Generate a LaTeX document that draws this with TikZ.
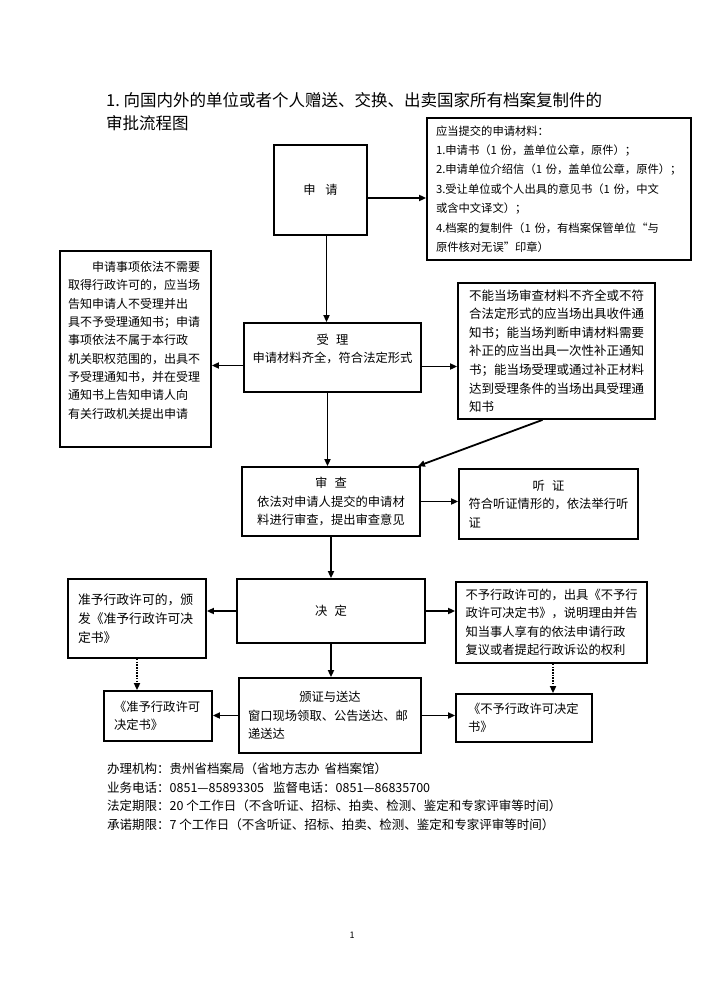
\documentclass[tikz,border=0pt]{standalone}
\usepackage{fontspec}
\setmainfont{Noto Sans CJK SC}
\usetikzlibrary{arrows.meta}

\begin{document}
\begin{tikzpicture}[x=1pt,y=-1pt]
        \useasboundingbox[fill=white] (0,0) rectangle (707,1000);
        \node[anchor=north west,align=left,inner sep=0pt,font=\fontsize{16.5}{23}\selectfont] (title) at (106,92) {1.~向国内外的单位或者个人赠送、交换、出卖国家所有档案复制件的\\审批流程图};
        \begin{scope}[every node/.style={draw,line width=1.8pt,inner sep=0pt,align=left,font=\fontsize{12.3}{18.5}\selectfont}]
        \node[minimum width=93pt,minimum height=90pt,align=center] (apply) at (320.5,190) {申\hspace{.8em}请};
        \node[minimum width=264pt,minimum height=142pt,text width=246pt,font=\fontsize{11.3}{19.4}\selectfont] (docs) at (559,189) {应当提交的申请材料：\\1.申请书（1~份，盖单位公章，原件）；\\2.申请单位介绍信（1~份，盖单位公章，原件）；\\3.受让单位或个人出具的意见书（1~份，中文\\或含中文译文）；\\4.档案的复制件（1~份，有档案保管单位“与\\原件核对无误”印章）};
        \node[minimum width=151pt,minimum height=196pt,text width=135pt,font=\fontsize{12}{18.3}\selectfont] (refuse) at (135.5,349) {\hspace*{2em}申请事项依法不需要\\取得行政许可的，应当场\\告知申请人不受理并出\\具不予受理通知书；申请\\事项依法不属于本行政\\机关职权范围的，出具不\\予受理通知书，并在受理\\通知书上告知申请人向\\有关行政机关提出申请\\\mbox{}};
        \node[minimum width=177pt,minimum height=69pt,text width=165pt,align=center] (accept) at (332.5,357.5) {受\hspace{.6em}理\\申请材料齐全，符合法定形式\\\mbox{}};
        \node[minimum width=197pt,minimum height=136pt,text width=175pt,font=\fontsize{12.5}{18.6}\selectfont] (amend) at (556.5,351) {不能当场审查材料不齐全或不符\\合法定形式的应当场出具收件通\\知书；能当场判断申请材料需要\\补正的应当出具一次性补正通知\\书；能当场受理或通过补正材料\\达到受理条件的当场出具受理通\\知书};
        \node[minimum width=178pt,minimum height=69pt,text width=160pt,align=center] (review) at (331,501.5) {审\hspace{.6em}查\\依法对申请人提交的申请材\\料进行审查，提出审查意见};
        \node[minimum width=179pt,minimum height=70pt,text width=160pt] (hearing) at (548.5,504) {\makebox[\hsize]{听\hspace{.6em}证}\\符合听证情形的，依法举行听\\证};
        \node[minimum width=188pt,minimum height=64pt,align=center] (decide) at (331,611) {决\hspace{.6em}定};
        \node[minimum width=138pt,minimum height=79pt,text width=118pt,font=\fontsize{12.8}{19}\selectfont] (grant) at (137,618.5) {准予行政许可的，颁\\发《准予行政许可决\\定书》};
        \node[minimum width=191pt,minimum height=81pt,text width=172pt] (deny) at (551.5,622.5) {不予行政许可的，出具《不予行\\政许可决定书》，说明理由并告\\知当事人享有的依法申请行政\\复议或者提起行政诉讼的权利};
        \node[minimum width=108pt,minimum height=50pt,text width=88pt] (grantdoc) at (158,716) {《准予行政许可\\决定书》};
        \node[minimum width=182pt,minimum height=75pt,text width=164pt] (issue) at (330,715.5) {\makebox[\hsize]{颁证与送达}\\窗口现场领取、公告送达、邮\\递送达};
        \node[minimum width=136pt,minimum height=48pt,text width=112pt] (denydoc) at (524,718) {《不予行政许可决定\\书》};
        \end{scope}
        \begin{scope}[every edge/.style={draw=black,line width=1.8pt,-{Triangle[length=7pt,width=6pt]}}]
        \coordinate (applyout) at ([yshift=-8pt]apply.east);
        \coordinate (applydown) at ([xshift=6pt]apply.south);
        \coordinate (acceptl) at ([yshift=-8pt]accept.west);
        \coordinate (acceptr) at ([yshift=-9pt]accept.east);
        \coordinate (acceptdown) at ([xshift=-5pt]accept.south);
        \coordinate (amendout) at ([xshift=-14pt]amend.south);
        \coordinate (reviewin) at ([xshift=-3pt]review.north east);
        \coordinate (denydown) at ([xshift=1.5pt]deny.south);
        \path (applyout) edge (applyout -| docs.west);
        \path (applydown) edge (applydown |- accept.north);
        \path (acceptl) edge (acceptl -| refuse.east);
        \path (acceptr) edge (acceptr -| amend.west);
        \path (acceptdown) edge (acceptdown |- review.north);
        \path (amendout) edge (reviewin);
        \path (review.east) edge (review.east -| hearing.west);
        \path (review.south) edge (review.south |- decide.north);
        \path (decide.west) edge (decide.west -| grant.east);
        \path (decide.east) edge (decide.east -| deny.west);
        \path (decide.south) edge (decide.south |- issue.north);
        \path (issue.west) edge (issue.west -| grantdoc.east);
        \path (issue.east) edge (issue.east -| denydoc.west);
        \path (grant.south) edge[dash pattern=on 1.5pt off 1.2pt] (grant.south |- grantdoc.north);
        \path (denydown) edge[dash pattern=on 1.5pt off 1.2pt] (denydown |- denydoc.north);
        \end{scope}
        \node[anchor=north west,align=left,inner sep=0pt,font=\fontsize{12.5}{18.5}\selectfont] (office) at (107,763) {办理机构：贵州省档案局（省地方志办\hspace{.4em}省档案馆）\\\makebox[166pt][l]{业务电话：0851—85893305}监督电话：0851—86835700\\法定期限：20 个工作日（不含听证、招标、拍卖、检测、鉴定和专家评审等时间）\\承诺期限：7 个工作日（不含听证、招标、拍卖、检测、鉴定和专家评审等时间）};
        \node[inner sep=0pt,font=\fontsize{9}{11}\selectfont] (page) at (352,935) {1};
\end{tikzpicture}
\end{document}
